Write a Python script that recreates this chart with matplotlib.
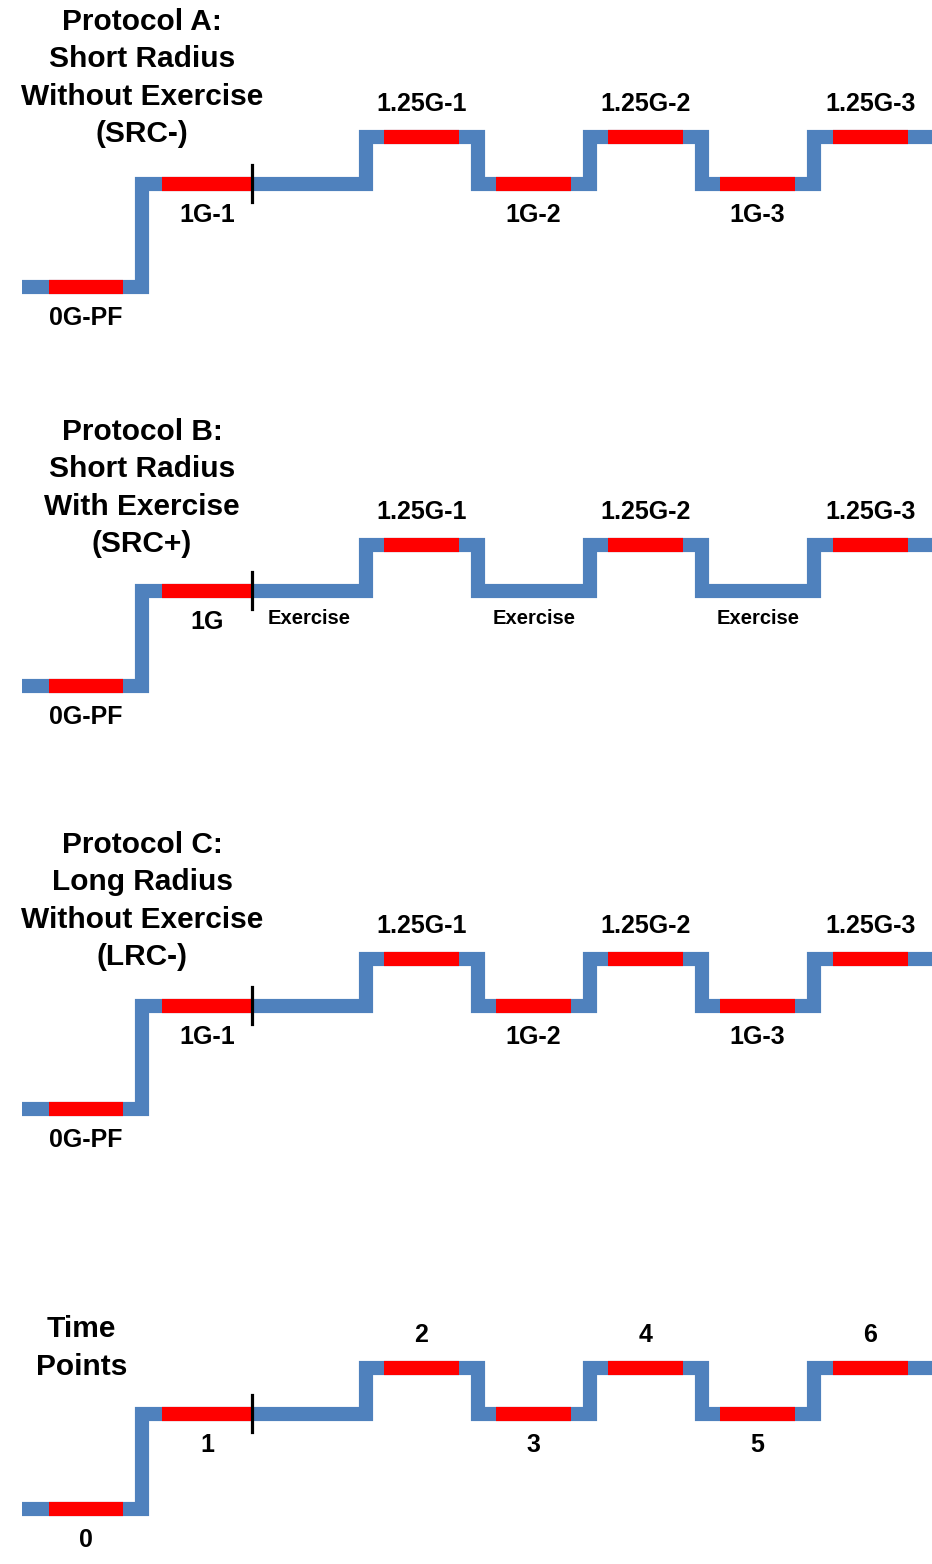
import matplotlib.pyplot as plt

# time line shared by all protocols (time units, 1 unit = one 1.25G / 1G block)
seg_edges = [-1.07, 0, 2, 3, 4, 5, 6, 7.2]
seg_levels = ['0G', '1G', '1.25G', '1G', '1.25G', '1G', '1.25G']
# sampling windows (red) inside each segment
red_windows = [(-0.83, -0.17), (0.18, 0.98), (2.16, 2.83), (3.16, 3.83),
               (4.16, 4.83), (5.16, 5.83), (6.17, 6.84)]
tick_time = 0.98
exercise_times = [1.49, 3.5, 5.5]

titles = [
    ["Protocol A:", "Short Radius", "Without Exercise", "(SRC-)"],
    ["Protocol B:", "Short Radius", "With Exercise", "(SRC+)"],
    ["Protocol C:", "Long Radius", "Without Exercise", "(LRC-)"],
    ["Time", "Points"],
]
seg_labels = [
    ['0G-PF', '1G-1', '1.25G-1', '1G-2', '1.25G-2', '1G-3', '1.25G-3'],
    ['0G-PF', '1G', '1.25G-1', '', '1.25G-2', '', '1.25G-3'],
    ['0G-PF', '1G-1', '1.25G-1', '1G-2', '1.25G-2', '1G-3', '1.25G-3'],
    ['0', '1', '2', '3', '4', '5', '6'],
]
sampled = [
    [1, 1, 1, 1, 1, 1, 1],
    [1, 1, 1, 0, 1, 0, 1],
    [1, 1, 1, 1, 1, 1, 1],
    [1, 1, 1, 1, 1, 1, 1],
]
has_exercise = [False, True, False, False]

# layout (vertical position of each level per panel, pixels from top)
level_y = [
    {'0G': 287, '1G': 184, '1.25G': 137},
    {'0G': 686, '1G': 591, '1.25G': 545},
    {'0G': 1109, '1G': 1006, '1.25G': 959},
    {'0G': 1509, '1G': 1414, '1.25G': 1368},
]
title_pos = [(0.0, 78), (0.0, 488), (0.0, 901), (-0.54, 1348)]

BLUE = '#4F81BD'
RED = '#FF0000'
LW = 10.2
FONT = 'Liberation Sans'

fig = plt.figure(figsize=(9.32, 15.64), dpi=100)
ax = fig.add_axes([0, 0, 1, 1])
ax.set_xlim(-142 / 112, 790 / 112)
ax.set_ylim(1564, 0)
ax.axis('off')

for p in range(4):
    ly = level_y[p]
    xs, ys = [], []
    for i, lev in enumerate(seg_levels):
        xs += [seg_edges[i], seg_edges[i + 1]]
        ys += [ly[lev], ly[lev]]
    ax.plot(xs, ys, color=BLUE, lw=LW, solid_joinstyle='miter', solid_capstyle='butt')

    for i, lev in enumerate(seg_levels):
        a, b = red_windows[i]
        y = ly[lev]
        if sampled[p][i]:
            ax.plot([a, b], [y, y], color=RED, lw=LW, solid_capstyle='butt')
        lab = seg_labels[p][i]
        if lab:
            ty = y - 33 if lev == '1.25G' else y + 31
            ax.text((a + b) / 2, ty, lab, ha='center', va='center',
                    fontsize=18, fontweight='bold', family=FONT)

    # end of the first 1G sampling period
    ym = ly['1G']
    ax.plot([tick_time, tick_time], [ym - 19, ym + 18], color='black', lw=2.3)

    if has_exercise[p]:
        for t in exercise_times:
            ax.text(t, ym + 28, 'Exercise', ha='center', va='center',
                    fontsize=14.5, fontweight='bold', family=FONT)

    tx, tyc = title_pos[p]
    n = len(titles[p])
    for k, line in enumerate(titles[p]):
        ax.text(tx, tyc + (k - (n - 1) / 2) * 37.5, line, ha='center', va='center',
                fontsize=21.5, fontweight='bold', family=FONT)

fig.savefig('out.png', dpi=100)
